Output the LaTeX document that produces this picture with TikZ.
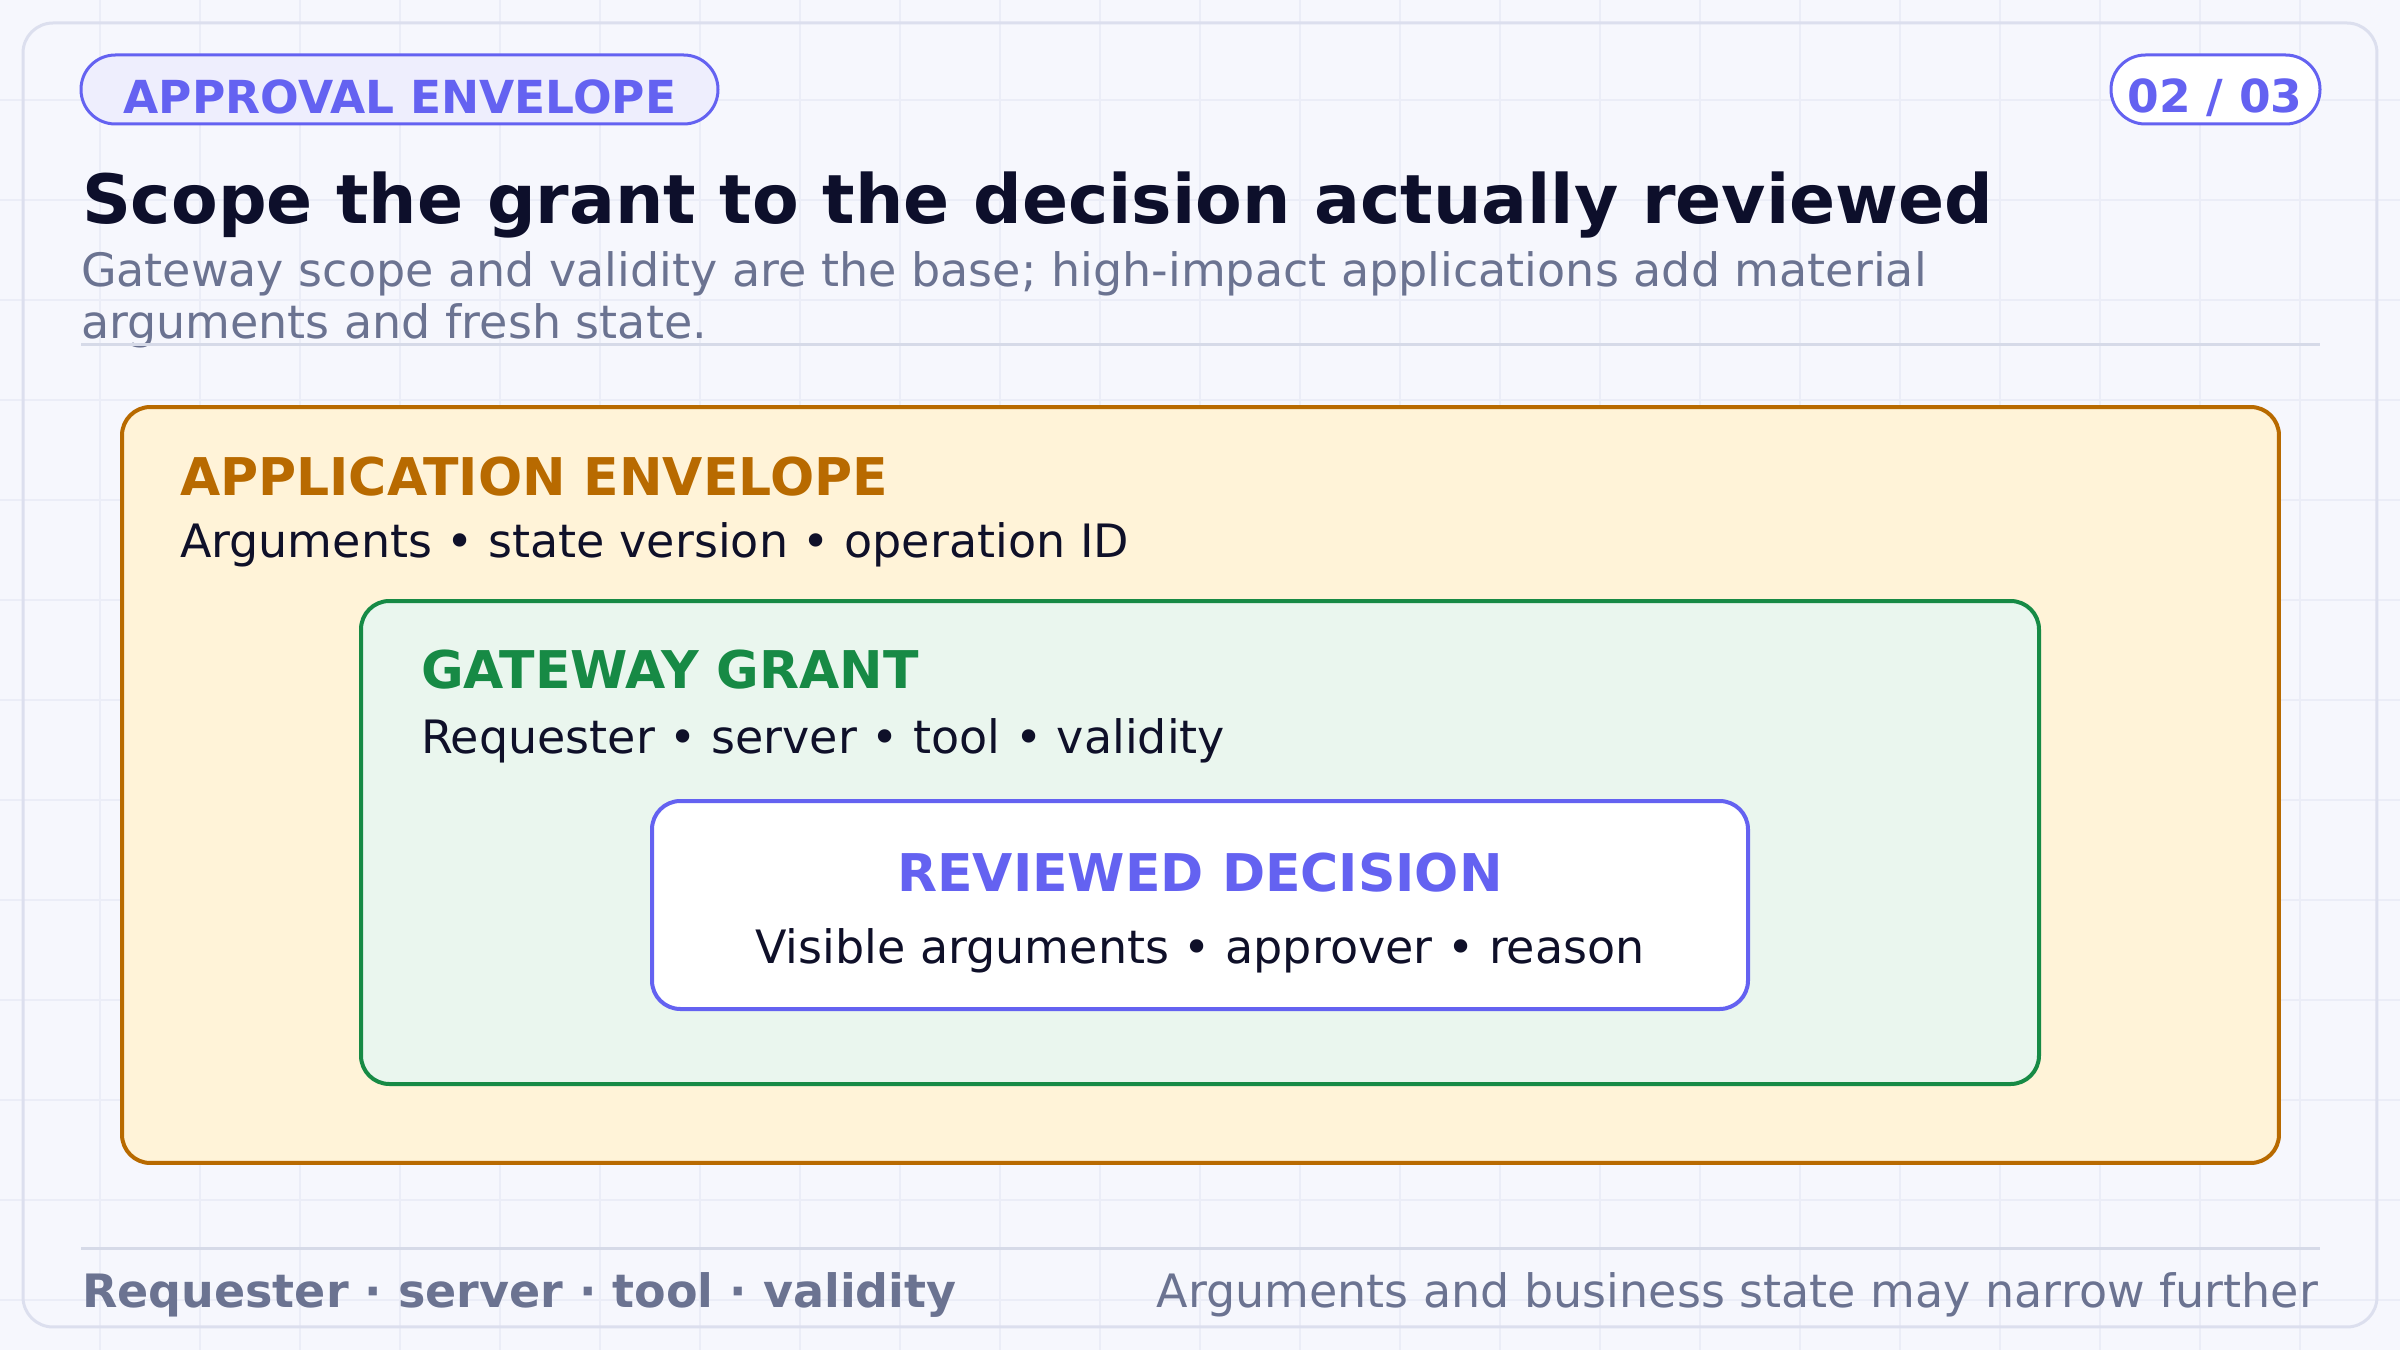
\documentclass[tikz,border=0pt]{standalone}
\usepackage{fontspec}
\setmainfont{DejaVu Sans}
\definecolor{bgc}{HTML}{F6F7FD}
\definecolor{gridc}{HTML}{EBEDF7}
\definecolor{framec}{HTML}{DCDFEE}
\definecolor{rulec}{HTML}{D6DAE8}
\definecolor{indigoc}{HTML}{6462F1}
\definecolor{pillfill}{HTML}{EEEEFD}
\definecolor{titlec}{HTML}{0D0F2B}
\definecolor{subc}{HTML}{6B7391}
\definecolor{amberc}{HTML}{B86A00}
\definecolor{amberfill}{HTML}{FFF3D8}
\definecolor{greenc}{HTML}{178A45}
\definecolor{greenfill}{HTML}{EAF6EE}
\definecolor{bodyc}{HTML}{0F1029}
\tikzset{
  gridline/.style={draw=gridc, line width=0.32pt},
  boxbase/.style={rectangle, anchor=north west, inner sep=0pt, outer sep=0pt},
  pillbox/.style={boxbase, draw=indigoc, line width=0.9pt, rounded corners=10.3pt, minimum height=20.7pt},
  layerbox/.style={boxbase, line width=1.2pt, rounded corners=8.5pt},
  txt/.style={inner sep=0pt, outer sep=0pt},
  pilltxt/.style={txt, anchor=base, text=indigoc, font=\fontsize{13.65pt}{16pt}\selectfont\bfseries},
  titletxt/.style={txt, anchor=base west, text=titlec, font=\fontsize{20.4pt}{24pt}\selectfont\bfseries},
  subtxt/.style={txt, anchor=base west, text=subc, font=\fontsize{13.8pt}{15.6pt}\selectfont},
  headtxt/.style={txt, font=\fontsize{15.6pt}{18pt}\selectfont\bfseries},
  bodytxt/.style={txt, text=bodyc, font=\fontsize{13.8pt}{16pt}\selectfont},
  foottxt/.style={txt, text=subc, font=\fontsize{13.8pt}{16pt}\selectfont},
  rulestyle/.style={draw=rulec, line width=0.9pt}
}
\begin{document}
\begin{tikzpicture}[x=0.3pt, y=-0.3pt]
\useasboundingbox (0,0) rectangle (2400,1350);
\fill[bgc] (0,0) rectangle (2400,1350);
\foreach \i in {100,200,...,2300} \draw[gridline] (\i,0) -- (\i,1350);
\foreach \j in {100,200,...,1300} \draw[gridline] (0,\j) -- (2400,\j);
\node[boxbase, draw=framec, line width=0.9pt, rounded corners=9pt, minimum width=706.2pt, minimum height=391.2pt] (frame) at (23,23) {};
% header
\node[pillbox, fill=pillfill, minimum width=191.1pt] (pill) at (81,55) {};
\node[pilltxt] (pilltext) at (400,114) {APPROVAL ENVELOPE};
\node[pillbox, fill=white, minimum width=62.7pt] (page) at (2111,55) {};
\node[pilltxt] (pagetext) at (2215,113) {02 / 03};
\node[titletxt] (title) at (82,224) {Scope the grant to the decision actually reviewed};
\node[subtxt] (sub1) at (81,287) {Gateway scope and validity are the base; high-impact applications add material};
\node[subtxt] (sub2) at (81,339) {arguments and fresh state.};
\coordinate (r1a) at (81,345);
\coordinate (r1b) at (2320,345);
\draw[rulestyle] (r1a) -- (r1b);
% nested boxes
\node[layerbox, draw=amberc, fill=amberfill, minimum width=647.1pt, minimum height=226.8pt] (app) at (122,407) {};
\node[headtxt, anchor=base west, text=amberc] (apphead) at (180,495) {APPLICATION ENVELOPE};
\node[bodytxt, anchor=base west] (appbody) at (180,557) {Arguments • state version • operation ID};
\node[layerbox, draw=greenc, fill=greenfill, minimum width=503.4pt, minimum height=144.9pt] (gate) at (361,601) {};
\node[headtxt, anchor=base west, text=greenc] (gatehead) at (421,688) {GATEWAY GRANT};
\node[bodytxt, anchor=base west] (gatebody) at (421,753) {Requester • server • tool • validity};
\node[layerbox, draw=indigoc, fill=white, minimum width=328.8pt, minimum height=62.4pt] (rev) at (652,801) {};
\node[headtxt, anchor=base, text=indigoc] (revhead) at (1200,891) {REVIEWED DECISION};
\node[bodytxt, anchor=base] (revbody) at (1200,963) {Visible arguments • approver • reason};
% footer
\coordinate (r2a) at (81,1248);
\coordinate (r2b) at (2320,1248);
\draw[rulestyle] (r2a) -- (r2b);
\node[foottxt, anchor=base west, font=\fontsize{13.8pt}{16pt}\selectfont\bfseries] (footl) at (82,1307) {Requester · server · tool · validity};
\node[foottxt, anchor=base east] (footr) at (2318,1307) {Arguments and business state may narrow further};
\end{tikzpicture}
\end{document}
